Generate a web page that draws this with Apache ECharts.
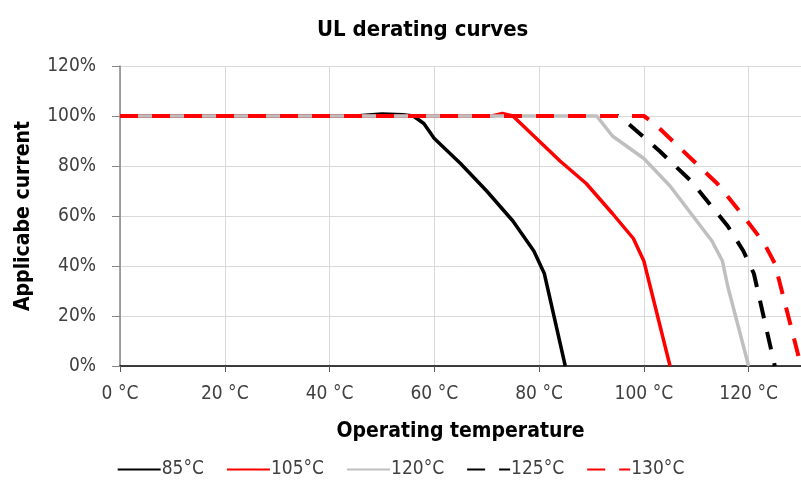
<!DOCTYPE html>
<html>
<head>
<meta charset="utf-8">
<script src="https://cdn.jsdelivr.net/npm/echarts@6/dist/echarts.min.js"></script>
<style>
  html, body { margin: 0; padding: 0; background: #fff; }
  #chart { width: 801px; height: 496px; }
</style>
</head>
<body>
<div id="chart"></div>
<script>
// series names (legend)
var names = ['85°C', '105°C', '120°C', '125°C', '130°C']

// temperature (°C) / applicable current (%)
var t85 = [0, 45, 50, 54, 56, 58, 60, 65, 70, 75, 79, 81, 85]
var i85 = [100, 100, 100.8, 100.5, 100, 97, 91, 81, 70, 58, 46, 37, 0]

var t105 = [0, 71, 73, 75, 80, 84, 89, 94, 98, 100, 105]
var i105 = [100, 100, 101, 100, 90, 82, 73, 61, 51, 42, 0]

var t120 = [0, 91, 94, 100, 105, 109, 113, 115, 116, 120]
var i120 = [100, 100, 92, 83, 72, 61, 50, 42, 32, 0]

var t125 = [0, 95, 97, 103, 109, 116, 119, 121, 125]
var i125 = [100, 100, 97, 86, 74, 56, 46, 37, 0]

var t130 = [0, 100, 102, 109, 114, 119, 123, 125, 130]
var i130 = [100, 100, 97, 83, 73, 60, 49, 41, 0]

function pairs(t, v) {
  return t.map(function (x, i) { return [x, v[i]] })
}

var font = "'Liberation Sans Narrow', 'DejaVu Sans Condensed', 'Liberation Sans', sans-serif"

var chart = echarts.init(document.getElementById('chart'))

function line(name, t, v, color, dashed, z) {
  return {
    name: name,
    type: 'line',
    data: pairs(t, v),
    symbol: 'none',
    z: z,
    lineStyle: {
      color: color,
      width: dashed ? 4 : 3.5,
      type: dashed ? [18, 14] : 'solid'
    },
    itemStyle: { color: color }
  }
}

chart.setOption({
  animation: false,
  backgroundColor: '#fff',
  textStyle: { fontFamily: font },
  title: {
    text: 'UL derating curves',
    left: 312,
    top: 14,
    textStyle: { fontFamily: font, fontSize: 22, fontWeight: 'bold', color: '#000' }
  },
  grid: {
    left: 120,
    right: 0,
    top: 66,
    bottom: 130
  },
  legend: {
    bottom: 12,
    left: 'center',
    itemWidth: 43,
    itemHeight: 14,
    itemGap: 22,
    itemStyle: { opacity: 0 },
    textStyle: { fontFamily: font, fontSize: 19, color: '#404040', padding: [0, 0, 0, -4] },
    data: names
  },
  xAxis: {
    type: 'value',
    min: 0,
    max: 130,
    interval: 20,
    name: 'Operating temperature',
    nameLocation: 'middle',
    nameGap: 55,
    nameTextStyle: { fontFamily: font, fontSize: 21, fontWeight: 'bold', color: '#000' },
    axisLine: { show: true, onZero: false, lineStyle: { color: '#000', width: 1.5 } },
    axisTick: { show: true, length: 6, lineStyle: { color: '#595959' } },
    axisLabel: {
      margin: 19,
      fontSize: 19,
      color: '#404040',
      formatter: function (v) { return v + ' °C' }
    },
    splitLine: { show: true, lineStyle: { color: '#d9d9d9', width: 1 } }
  },
  yAxis: {
    type: 'value',
    min: 0,
    max: 120,
    interval: 20,
    name: 'Applicabe current',
    nameLocation: 'middle',
    nameGap: 86,
    nameTextStyle: { fontFamily: font, fontSize: 21, fontWeight: 'bold', color: '#000' },
    axisLine: { show: true, lineStyle: { color: '#868686', width: 1.5 } },
    axisTick: { show: true, length: 8, lineStyle: { color: '#868686' } },
    axisLabel: {
      margin: 24,
      fontSize: 19,
      color: '#404040',
      formatter: function (v) { return v + '%' }
    },
    splitLine: { show: true, lineStyle: { color: '#d9d9d9', width: 1 } }
  },
  series: [
    line(names[0], t85, i85, '#000000', false, 2),
    line(names[1], t105, i105, '#ff0000', false, 2),
    line(names[2], t120, i120, '#bfbfbf', false, 4),
    line(names[3], t125, i125, '#000000', true, 3),
    line(names[4], t130, i130, '#ff0000', true, 5)
  ]
})
</script>
</body>
</html>
